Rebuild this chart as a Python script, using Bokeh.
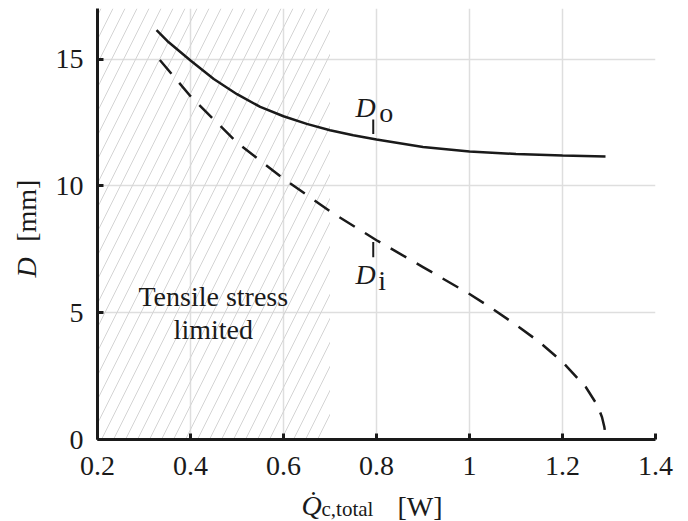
import math
from bokeh.plotting import figure
from bokeh.layouts import column, row
from bokeh.models import Range1d, FixedTicker, CustomJSTickFormatter, Label
from bokeh.embed import file_html
from bokeh.resources import INLINE

# ---- data ----
do_x = [0.327, 0.35, 0.4, 0.45, 0.5, 0.55, 0.6, 0.65, 0.7, 0.75, 0.8, 0.9, 1.0, 1.1, 1.2, 1.2925]
do_y = [16.15, 15.72, 14.95, 14.22, 13.62, 13.12, 12.75, 12.45, 12.2, 12.0, 11.83, 11.54, 11.36, 11.26, 11.2, 11.16]

di_x = [0.334, 0.4, 0.5, 0.6, 0.7, 0.8, 0.9, 1.0, 1.05, 1.1, 1.15, 1.2, 1.25, 1.275, 1.285, 1.29, 1.294]
di_y = [14.97, 13.54, 11.71, 10.29, 9.0, 7.86, 6.8, 5.74, 5.15, 4.52, 3.85, 3.06, 2.07, 1.35, 0.88, 0.49, 0.0]

x_ticks = [0.2, 0.4, 0.6, 0.8, 1.0, 1.2, 1.4]
y_ticks = [0, 5, 10, 15]
x_lim = (0.2, 1.4)
y_lim = (0, 17)
tensile_limit = 0.7  # upper bound of the tensile-stress-limited region

FONT = "Liberation Serif"
BLACK = "#1a1a1a"
BIG = "28px"

YLAB_W = 50
MAIN_W = 688 - YLAB_W
MAIN_H = 486
XLAB_H = 521 - MAIN_H

p = figure(width=MAIN_W, height=MAIN_H, output_backend="svg", toolbar_location=None,
           x_range=Range1d(*x_lim), y_range=Range1d(*y_lim))
p.min_border_left = 97 - YLAB_W
p.min_border_right = 33
p.min_border_top = 8
p.min_border_bottom = MAIN_H - 439
p.outline_line_color = None
p.background_fill_color = "white"
p.border_fill_color = "white"

# axes
for ax in (p.xaxis[0], p.yaxis[0]):
    ax.axis_line_width = 3
    ax.axis_line_color = BLACK
    ax.major_tick_line_width = 3
    ax.major_tick_line_color = BLACK
    ax.major_tick_in = 6
    ax.major_tick_out = 0
    ax.minor_tick_line_color = None
    ax.major_label_text_font = FONT
    ax.major_label_text_font_size = BIG
    ax.major_label_text_color = BLACK
p.xaxis.major_label_standoff = 17
p.yaxis.major_label_standoff = 14

p.xaxis.ticker = FixedTicker(ticks=x_ticks)
p.yaxis.ticker = FixedTicker(ticks=y_ticks)
p.xaxis.formatter = CustomJSTickFormatter(code="return tick.toFixed(1).replace(/\\.0$/, '');")

p.xgrid.ticker = FixedTicker(ticks=x_ticks)
p.ygrid.ticker = FixedTicker(ticks=y_ticks)
for g in (p.xgrid[0], p.ygrid[0]):
    g.grid_line_color = "#dedede"
    g.grid_line_width = 1.5

# hatched region
p.quad(left=[x_lim[0]], right=[tensile_limit], bottom=[y_lim[0]], top=[y_lim[1]],
       fill_alpha=0, line_alpha=0, hatch_pattern="/", hatch_color="#d4d4d4",
       hatch_weight=1, hatch_scale=24)

# curves
p.line(do_x, do_y, line_color=BLACK, line_width=2.5)
p.line(di_x, di_y, line_color=BLACK, line_width=2.5, line_dash="18 12")

# label pointer ticks
p.segment(x0=[0.793, 0.793], y0=[12.05, 7.19], x1=[0.793, 0.793], y1=[12.62, 7.79],
          line_color=BLACK, line_width=2)

def mk(x, y, text, size=BIG, style="normal", align="left", baseline="alphabetic", angle=0):
    return Label(x=x, y=y, text=text, text_font=FONT, text_font_size=size,
                 text_font_style=style, text_align=align, text_baseline=baseline,
                 text_color=BLACK, angle=angle)

# curve labels
p.add_layout(mk(0.755, 13.1, "D", style="italic"))
p.add_layout(mk(0.806, 12.9, "o"))
p.add_layout(mk(0.755, 6.5, "D", style="italic"))
p.add_layout(mk(0.804, 6.27, "i"))

# region text
p.add_layout(mk(0.449, 5.65, "Tensile stress", align="center"))
p.add_layout(mk(0.449, 4.35, "limited", align="center"))

def strip(w, h):
    f = figure(width=w, height=h, output_backend="svg", toolbar_location=None,
               x_range=Range1d(0, w), y_range=Range1d(h, 0),
               x_axis_location=None, y_axis_location=None)
    f.min_border = 0
    f.min_border_left = f.min_border_right = f.min_border_top = f.min_border_bottom = 0
    f.outline_line_color = None
    f.grid.grid_line_color = None
    f.background_fill_color = "white"
    f.border_fill_color = "white"
    return f

# y axis label strip (strip coordinates, y measured from top)
ylab = strip(YLAB_W, MAIN_H)
ylab.add_layout(mk(26, 292, "D", style="italic", align="center", baseline="middle", angle=math.pi / 2))
ylab.add_layout(mk(26, 228, "[mm]", align="center", baseline="middle", angle=math.pi / 2))

# x axis label strip
xlab = strip(688, XLAB_H)
xlab.add_layout(mk(301, 19, "Q\u0307", style="italic"))
xlab.add_layout(mk(321, 22, "c,total", size="21px"))
xlab.add_layout(mk(397, 20, "[W]"))

layout = column(row(ylab, p, spacing=0), xlab, spacing=0)
open("out.html", "w").write(file_html(layout, INLINE))
